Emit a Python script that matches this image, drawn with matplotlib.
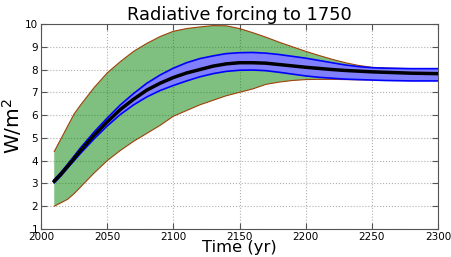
import matplotlib
matplotlib.use("Agg")
import matplotlib.pyplot as plt
import numpy as np

years = [2010, 2015, 2020, 2025, 2030, 2040, 2050, 2060, 2070, 2080, 2090, 2100,
         2110, 2120, 2130, 2140, 2150, 2160, 2170, 2180, 2190, 2200, 2210, 2220,
         2230, 2240, 2250, 2260, 2270, 2280, 2290, 2300]

mean_rf = [3.1, 3.4, 3.75, 4.1, 4.45, 5.1, 5.7, 6.25, 6.7, 7.1, 7.4, 7.65,
           7.85, 8.0, 8.15, 8.25, 8.3, 8.3, 8.28, 8.22, 8.16, 8.1, 8.05, 8.0,
           7.96, 7.93, 7.9, 7.88, 7.86, 7.84, 7.83, 7.82]

blue_upper = [3.17, 3.48, 3.83, 4.2, 4.57, 5.25, 5.87, 6.45, 6.95, 7.4, 7.76, 8.06,
              8.3, 8.48, 8.6, 8.7, 8.74, 8.75, 8.72, 8.66, 8.58, 8.5, 8.4, 8.3,
              8.2, 8.13, 8.08, 8.06, 8.05, 8.04, 8.04, 8.04]

blue_lower = [3.03, 3.33, 3.67, 4.0, 4.33, 4.95, 5.52, 6.03, 6.45, 6.8, 7.08, 7.3,
              7.5, 7.68, 7.82, 7.92, 7.97, 7.98, 7.95, 7.88, 7.8, 7.72, 7.66, 7.62,
              7.58, 7.56, 7.54, 7.52, 7.51, 7.5, 7.5, 7.5]

green_upper = [4.4, 4.95, 5.5, 6.05, 6.45, 7.2, 7.85, 8.35, 8.8, 9.15, 9.45, 9.68,
               9.8, 9.87, 9.93, 9.92, 9.8, 9.62, 9.42, 9.2, 9.0, 8.8, 8.62, 8.45,
               8.3, 8.18, 8.1, 8.07, 8.05, 8.04, 8.04, 8.04]

green_lower = [2.0, 2.15, 2.3, 2.55, 2.85, 3.45, 4.0, 4.45, 4.85, 5.2, 5.55, 5.95,
               6.2, 6.45, 6.65, 6.85, 7.0, 7.15, 7.35, 7.45, 7.52, 7.56, 7.57, 7.57,
               7.56, 7.55, 7.55, 7.55, 7.55, 7.55, 7.55, 7.55]

title = "Radiative forcing to 1750"
xlabel = "Time (yr)"
ylabel = "W/m$^2$"
xticks = [2000, 2050, 2100, 2150, 2200, 2250, 2300]
yticks = [1, 2, 3, 4, 5, 6, 7, 8, 9, 10]

fig = plt.figure(figsize=(4.52, 2.57), dpi=100)
ax = fig.add_axes([41/452, 1 - 229/257, (438 - 41)/452, (229 - 24)/257])

ax.fill_between(years, green_lower, green_upper, facecolor="green", alpha=0.5,
                edgecolor="none", zorder=2)
ax.plot(years, green_upper, color="#a0400a", lw=0.8, zorder=3)
ax.plot(years, green_lower, color="#a0400a", lw=0.8, zorder=3)
ax.fill_between(years, blue_lower, blue_upper, facecolor="#8080ff",
                edgecolor="none", zorder=4)
ax.plot(years, blue_upper, color="blue", lw=1.2, zorder=5)
ax.plot(years, blue_lower, color="blue", lw=1.2, zorder=5)
ax.plot(years, mean_rf, color="black", lw=2.5, zorder=6)

ax.set_xlim(2000, 2300)
ax.set_ylim(1, 10)
ax.set_xticks(xticks)
ax.set_yticks(yticks)
ax.tick_params(direction="in", labelsize=7.5, top=True, right=True, length=4,
               color="#555555", pad=2)
ax.grid(True, linestyle=":", color="#b0b0b0", lw=0.8, zorder=0)
ax.set_axisbelow(True)
for s in ax.spines.values():
    s.set_color("#555555")
    s.set_linewidth(0.8)

ax.set_title(title, fontsize=12.8, pad=3)
ax.set_xlabel(xlabel, fontsize=11.8, labelpad=-1)
ax.set_ylabel(ylabel, fontsize=14.5, labelpad=1)

fig.savefig("out.png", dpi=100, facecolor="white")
